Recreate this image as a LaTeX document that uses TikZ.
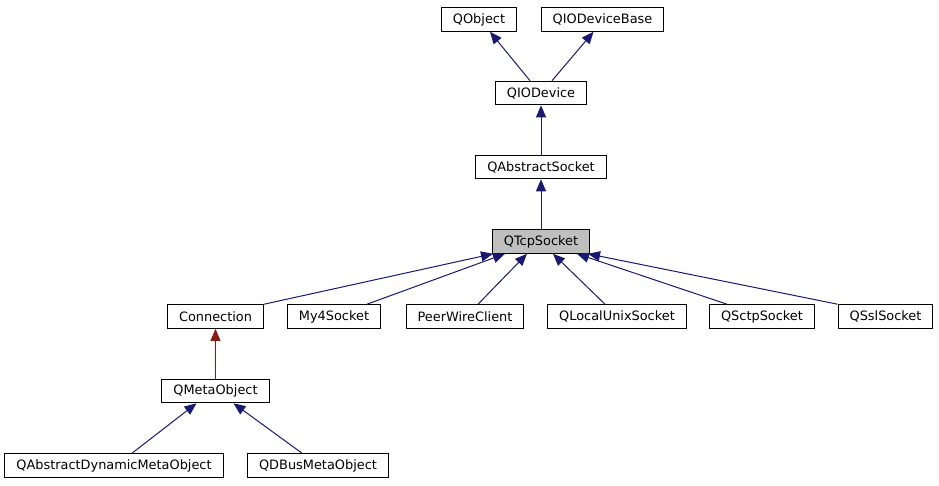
\documentclass[tikz,border=0pt]{standalone}
\usepackage{fontspec}
\setmainfont{DejaVu Sans}
\usetikzlibrary{calc,arrows.meta}
\definecolor{edgeblue}{HTML}{191970}
\definecolor{edgered}{HTML}{8B1A1A}
\definecolor{focusgray}{HTML}{BFBFBF}
\tikzset{
	cls/.style={draw=black, line width=1.1pt, fill=white, inner xsep=11.5pt, inner ysep=0pt,
		minimum height=23.5pt, font=\fontsize{12.9}{15}\selectfont},
	focuscls/.style={cls, fill=focusgray},
	pub/.style={draw=edgeblue, line width=1pt, -{Triangle[length=12pt,width=10pt]}},
	priv/.style={pub, draw=edgered}
}

\begin{document}
\begin{tikzpicture}[x=1pt, y=-1pt]
			%%%%% START %%%%%
			\useasboundingbox (0, 0) rectangle (939, 485);
			
			\node[cls] (qobject) at (479, 19.5) {QObject};
			\node[cls] (qiodevicebase) at (602.5, 19.5) {QIODeviceBase};
			\node[cls] (qiodevice) at (541, 93) {QIODevice};
			\node[cls] (qabstractsocket) at (541, 167) {QAbstractSocket};
			\node[focuscls] (qtcpsocket) at (541, 241.5) {QTcpSocket};
			
			\node[cls] (connection) at (215.5, 316.5) {Connection};
			\node[cls] (my4socket) at (334, 316.5) {My4Socket};
			\node[cls] (peerwireclient) at (465, 316.5) {PeerWireClient};
			\node[cls] (qlocalunixsocket) at (617, 316.5) {QLocalUnixSocket};
			\node[cls] (qsctpsocket) at (762, 316.5) {QSctpSocket};
			\node[cls] (qsslsocket) at (885.5, 316.5) {QSslSocket};
			
			\node[cls] (qmetaobject) at (215.5, 391) {QMetaObject};
			\node[cls] (qadmobject) at (114, 465.5) {QAbstractDynamicMetaObject};
			\node[cls] (qdbusmetaobject) at (318, 465.5) {QDBusMetaObject};
			
			% upper chain
			\draw[pub] ($(qiodevice.north)+(-11, 0)$) -- ($(qobject.south)+(11, 0)$);
			\draw[pub] ($(qiodevice.north)+(11, 0)$) -- ($(qiodevicebase.south)+(-9, 0)$);
			\draw[pub] (qabstractsocket.north) -- (qiodevice.south);
			\draw[pub] (qtcpsocket.north) -- (qabstractsocket.south);
			
			% subclasses of QTcpSocket
			\draw[pub] (connection.north east) -- ($(qtcpsocket.south)+(-48, 0)$);
			\draw[pub] ($(my4socket.north)+(33, 0)$) -- ($(qtcpsocket.south)+(-36, 0)$);
			\draw[pub] ($(peerwireclient.north)+(13, 0)$) -- ($(qtcpsocket.south)+(-14, 0)$);
			\draw[pub] ($(qlocalunixsocket.north)+(-12, 0)$) -- ($(qtcpsocket.south)+(12, 0)$);
			\draw[pub] ($(qsctpsocket.north)+(-35, 0)$) -- ($(qtcpsocket.south)+(36, 0)$);
			\draw[pub] (qsslsocket.north west) -- ($(qtcpsocket.south)+(47, 0)$);
			
			% meta objects
			\draw[priv] (qmetaobject.north) -- (connection.south);
			\draw[pub] ($(qadmobject.north)+(18, 0)$) -- ($(qmetaobject.south)+(-19, 0)$);
			\draw[pub] ($(qdbusmetaobject.north)+(-16, 0)$) -- ($(qmetaobject.south)+(18, 0)$);
			%%%%% END %%%%%
\end{tikzpicture}
\end{document}
